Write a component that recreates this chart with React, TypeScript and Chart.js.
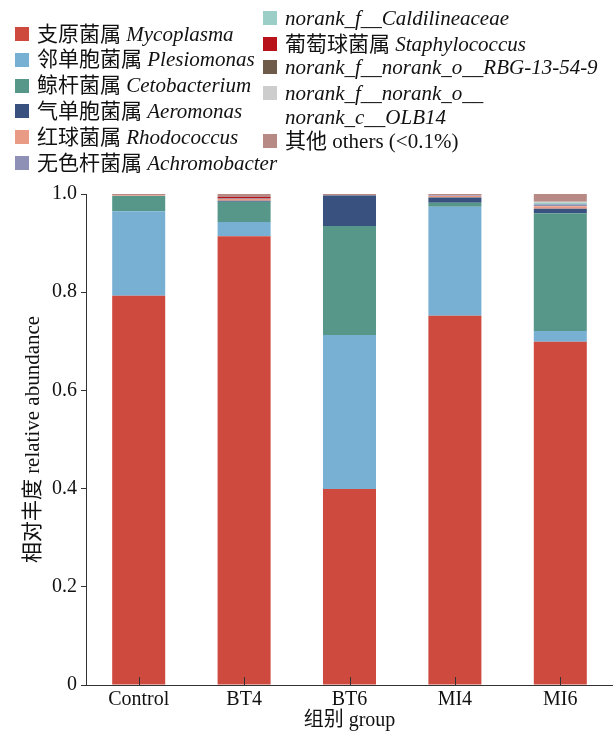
import React, { useEffect, useRef } from "react";
import { Chart, registerables } from "chart.js";

Chart.register(...registerables);

const categories = ["Control", "BT4", "BT6", "MI4", "MI6"];

const seriesCN = [
  "支原菌属",
  "邻单胞菌属",
  "鲸杆菌属",
  "气单胞菌属",
  "红球菌属",
  "无色杆菌属",
  "",
  "葡萄球菌属",
  "",
  "",
  "其他",
];
const seriesLatin = [
  "Mycoplasma",
  "Plesiomonas",
  "Cetobacterium",
  "Aeromonas",
  "Rhodococcus",
  "Achromobacter",
  "norank_f__Caldilineaceae",
  "Staphylococcus",
  "norank_f__norank_o__RBG-13-54-9",
  "norank_f__norank_o__\nnorank_c__OLB14",
  "others (<0.1%)",
];
const seriesItalic = [true, true, true, true, true, true, true, true, true, true, false];
const seriesColors = [
  "#CF4A3E",
  "#78B0D3",
  "#56978A",
  "#39517F",
  "#E99B86",
  "#8F90B6",
  "#9ACEC6",
  "#B8121B",
  "#6E5B4A",
  "#CDCDCD",
  "#B78A85",
];

// values per category: Control, BT4, BT6, MI4, MI6
const mycoplasma = [0.793, 0.914, 0.399, 0.752, 0.699];
const plesiomonas = [0.172, 0.029, 0.314, 0.222, 0.022];
const cetobacterium = [0.031, 0.041, 0.222, 0.008, 0.24];
const aeromonas = [0.0, 0.002, 0.062, 0.011, 0.009];
const rhodococcus = [0.001, 0.004, 0.0, 0.003, 0.005];
const achromobacter = [0.0, 0.001, 0.0, 0.001, 0.004];
const caldilineaceae = [0.0, 0.0, 0.0, 0.0, 0.003];
const staphylococcus = [0.0, 0.003, 0.0, 0.0, 0.0];
const rbg = [0.0, 0.0, 0.0, 0.0, 0.0];
const olb14 = [0.0, 0.0, 0.0, 0.0, 0.002];
const others = [0.003, 0.006, 0.003, 0.003, 0.016];

const seriesValues = [
  mycoplasma,
  plesiomonas,
  cetobacterium,
  aeromonas,
  rhodococcus,
  achromobacter,
  caldilineaceae,
  staphylococcus,
  rbg,
  olb14,
  others,
];

const yTicks = [0, 0.2, 0.4, 0.6, 0.8, 1.0];
const yTickLabels = ["0", "0.2", "0.4", "0.6", "0.8", "1.0"];

const FONT = "'Liberation Serif', 'Times New Roman', 'Noto Sans CJK SC', serif";
const AXIS = "#333333";

const innerTicks = {
  id: "innerTicks",
  afterDraw(chart: any) {
    const x = chart.scales.x;
    const ctx = chart.ctx;
    ctx.save();
    ctx.strokeStyle = AXIS;
    ctx.lineWidth = 1;
    x.ticks.forEach((_: any, i: number) => {
      const px = Math.round(x.getPixelForTick(i)) + 0.5;
      ctx.beginPath();
      ctx.moveTo(px, x.top);
      ctx.lineTo(px, x.top - 8);
      ctx.stroke();
    });
    ctx.restore();
  },
};

const leftRows = [0, 1, 2, 3, 4, 5];
const rightRows = [6, 7, 8, 9, 10];

export default function App() {
  const ref = useRef<HTMLCanvasElement | null>(null);

  useEffect(() => {
    if (!ref.current) return;
    const chart = new Chart(ref.current, {
      type: "bar",
      data: {
        labels: categories,
        datasets: seriesValues.map((vals, i) => ({
          label: seriesLatin[i],
          data: vals,
          backgroundColor: seriesColors[i],
          borderWidth: 0,
          barPercentage: 0.503,
          categoryPercentage: 1.0,
        })),
      },
      options: {
        responsive: false,
        animation: false,
        layout: { padding: { top: 194, left: 0, right: 0, bottom: 0 } },
        plugins: { legend: { display: false }, tooltip: { enabled: false } },
        scales: {
          x: {
            stacked: true,
            grid: { display: false, drawTicks: false },
            border: { display: true, color: AXIS, width: 1 },
            ticks: {
              color: "#111",
              font: { family: FONT, size: 20 },
              padding: 3,
              maxRotation: 0,
            },
            title: {
              display: true,
              text: "组别 group",
              color: "#111",
              font: { family: FONT, size: 20 },
              padding: { top: 0, bottom: 1 },
            },
            afterFit(scale: any) {
              scale.height = 49;
            },
          },
          y: {
            stacked: true,
            min: 0,
            max: 1,
            afterBuildTicks(scale: any) {
              scale.ticks = yTicks.map((v) => ({ value: v }));
            },
            grid: {
              display: true,
              drawOnChartArea: false,
              drawTicks: true,
              tickLength: 5,
              color: AXIS,
            },
            border: { display: true, color: AXIS, width: 1 },
            ticks: {
              color: "#111",
              font: { family: FONT, size: 20 },
              padding: 4,
              callback: (v: any) => {
                const idx = yTicks.findIndex((t) => Math.abs(t - Number(v)) < 1e-9);
                return idx >= 0 ? yTickLabels[idx] : "";
              },
            },
            title: {
              display: true,
              text: "相对丰度 relative abundance",
              color: "#111",
              font: { family: FONT, size: 21 },
              padding: { top: 21, bottom: 0 },
            },
            afterFit(scale: any) {
              scale.width = 86;
            },
          },
        },
      },
      plugins: [innerTicks],
    } as any);
    return () => chart.destroy();
  }, []);

  const renderItem = (i: number, left: number, centerY: number) => (
    <div key={i}>
      <div
        style={{
          position: "absolute",
          left: left,
          top: centerY - 7,
          width: 14,
          height: 14,
          background: seriesColors[i],
        }}
      />
      <div
        style={{
          position: "absolute",
          left: left + 22,
          top: centerY - 12.5,
          fontFamily: FONT,
          fontSize: 21,
          lineHeight: "24px",
          color: "#111",
          whiteSpace: "pre",
        }}
      >
        {seriesCN[i] ? seriesCN[i] + " " : ""}
        <span style={{ fontStyle: seriesItalic[i] ? "italic" : "normal" }}>{seriesLatin[i]}</span>
      </div>
    </div>
  );

  return (
    <div
      style={{
        position: "absolute",
        left: 0,
        top: 0,
        width: 613,
        height: 734,
        background: "#fff",
        overflow: "hidden",
      }}
    >
      <canvas ref={ref} width={613} height={734} style={{ position: "absolute", left: 0, top: 0 }} />
      {leftRows.map((i, k) => renderItem(i, 15, 34 + k * 25.8))}
      {rightRows.map((i, k) => renderItem(i, 263, [18, 44, 67, 93, 141][k]))}
    </div>
  );
}
